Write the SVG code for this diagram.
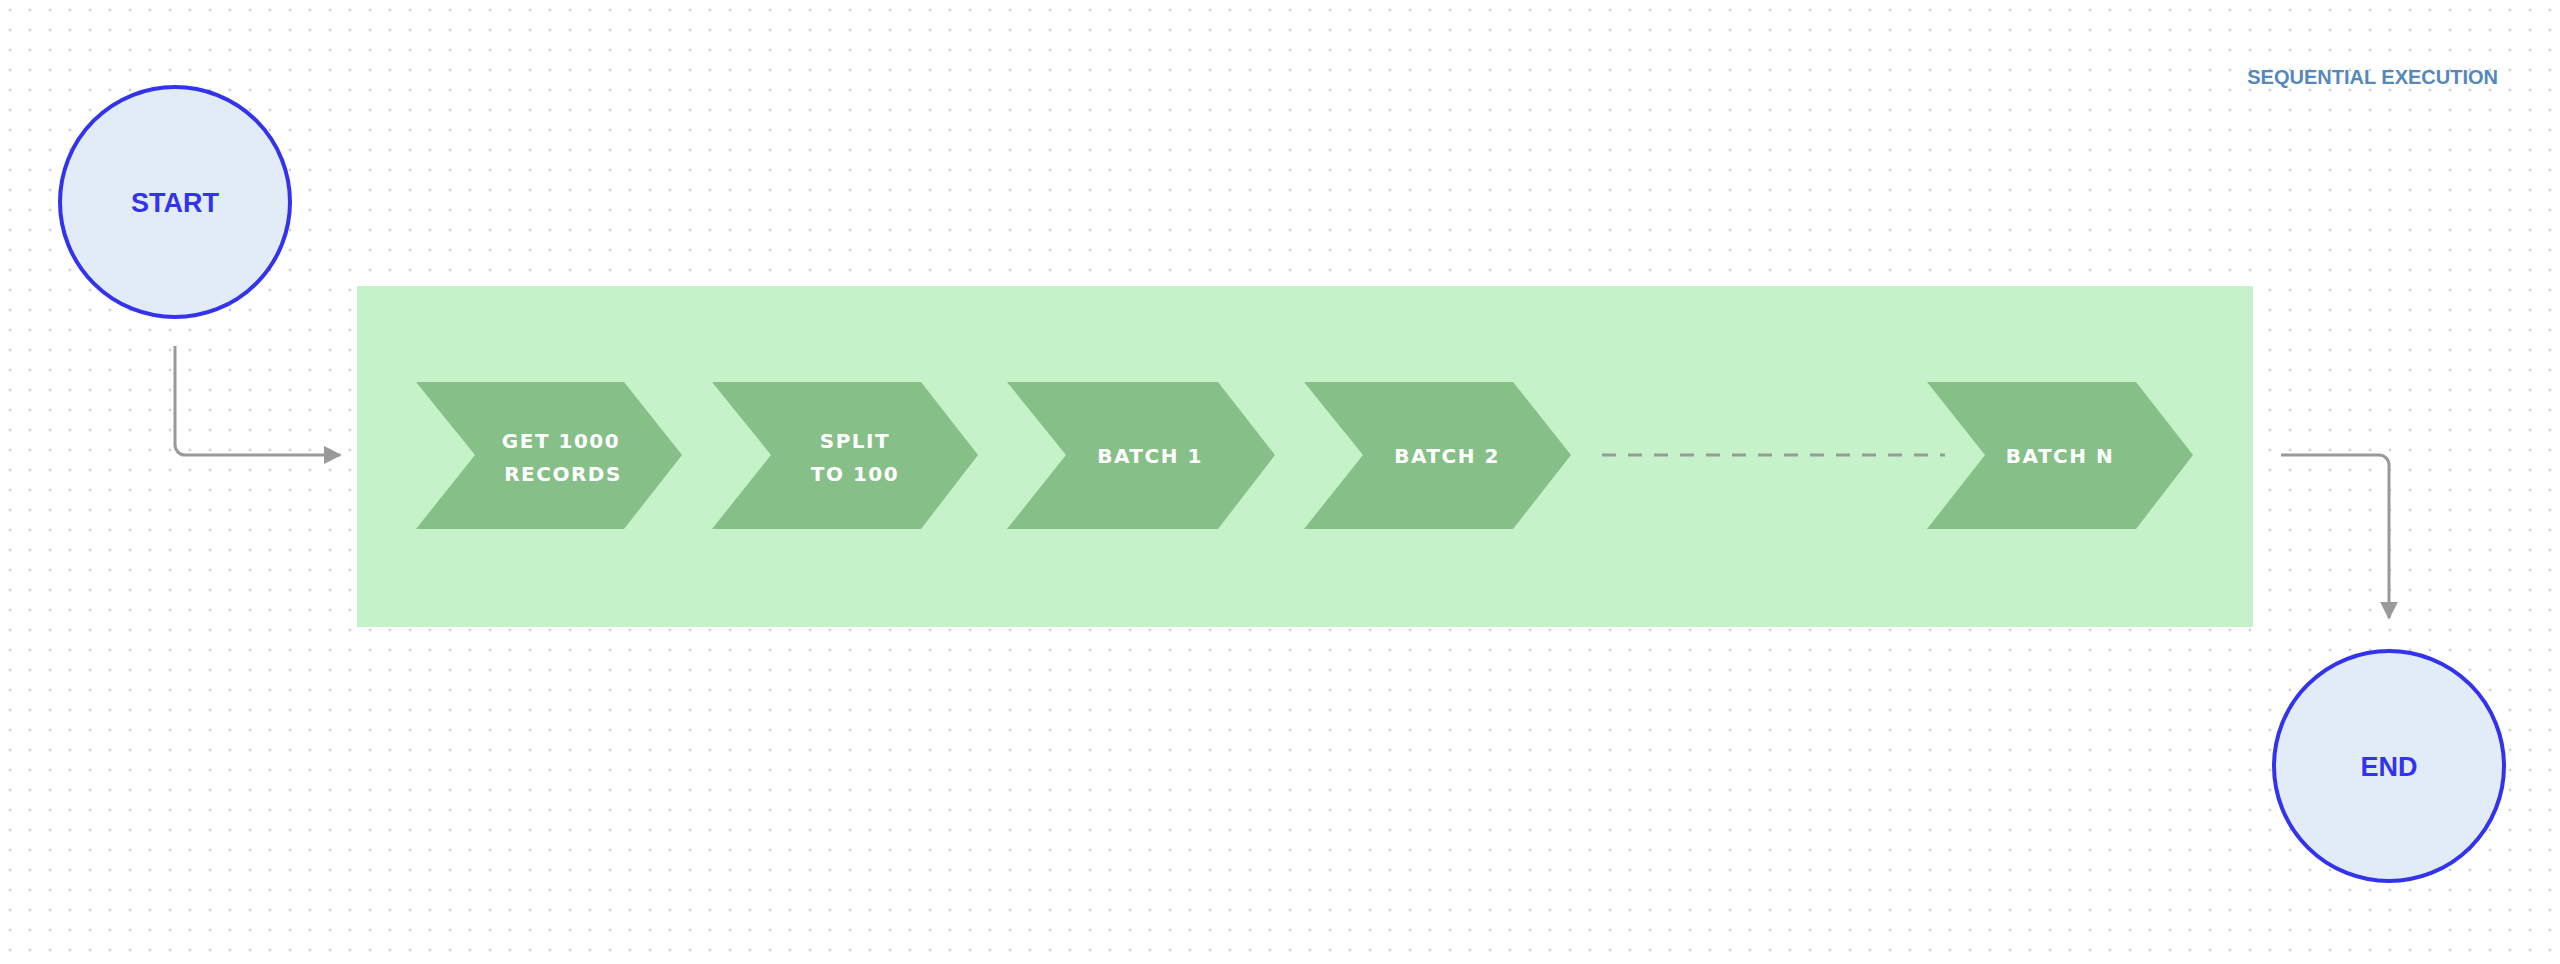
<svg xmlns="http://www.w3.org/2000/svg" width="2560" height="964" viewBox="0 0 2560 964">
<defs>
<pattern id="dots" width="20" height="20" patternUnits="userSpaceOnUse"><circle cx="10" cy="10" r="1.4" fill="#d0d4d8"/></pattern>
<marker id="ah" viewBox="0 0 10 10" refX="9" refY="5" markerWidth="6" markerHeight="6" orient="auto"><path d="M0 0L10 5L0 10z" fill="#999"/></marker>
<style>
.term{fill:#e1ecf6;stroke:#3333ee;stroke-width:4}
.tt{font-family:"Liberation Sans",Arial,sans-serif;font-weight:bold;font-size:27px;fill:#3333ee;text-anchor:middle}
.chev{fill:#86bf88}
.ct{font-family:"DejaVu Sans",sans-serif;font-weight:bold;font-size:20px;fill:#fff;text-anchor:middle;letter-spacing:1.5px}
.conn{fill:none;stroke:#999;stroke-width:3}
</style>
</defs>
<rect width="2560" height="964" fill="#fff"/>
<rect width="2560" height="964" fill="url(#dots)"/>
<text x="2498" y="84" font-family="'Liberation Sans',Arial,sans-serif" font-weight="bold" font-size="20" fill="#5588bb" text-anchor="end">SEQUENTIAL EXECUTION</text>
<g id="group"><rect x="357" y="286" width="1896" height="341" fill="#c5f2c8"/></g>
<g id="start"><circle class="term" cx="175" cy="202" r="115"/><text class="tt" x="175" y="212">START</text></g>
<g id="end"><circle class="term" cx="2389" cy="766" r="115"/><text class="tt" x="2389" y="776">END</text></g>
<g id="n1"><polygon class="chev" points="416,382 624,382 682,455 624,529 416,529 475,455"/><text class="ct" x="561" y="448">GET 1000</text><text class="ct" x="563" y="481">RECORDS</text></g>
<g id="n2"><polygon class="chev" points="712,382 921,382 978,455 921,529 712,529 771,455"/><text class="ct" x="855" y="448">SPLIT</text><text class="ct" x="855" y="481">TO 100</text></g>
<g id="n3"><polygon class="chev" points="1007,382 1218,382 1275,455 1218,529 1007,529 1066,455"/><text class="ct" x="1150" y="463">BATCH 1</text></g>
<g id="n4"><polygon class="chev" points="1304,382 1513,382 1571,455 1513,529 1304,529 1363,455"/><text class="ct" x="1447" y="463">BATCH 2</text></g>
<g id="nN"><polygon class="chev" points="1927,382 2136,382 2193,455 2136,529 1927,529 1985,455"/><text class="ct" x="2060" y="463">BATCH N</text></g>
<g id="connectors">
<path class="conn" d="M175 346V445a10 10 0 0 0 10 10H340" marker-end="url(#ah)"/>
<path class="conn" d="M2281 455H2379a10 10 0 0 1 10 10V618" marker-end="url(#ah)"/>
<path class="conn" d="M1602 455H1945" stroke-dasharray="14 12"/>
</g>
</svg>
